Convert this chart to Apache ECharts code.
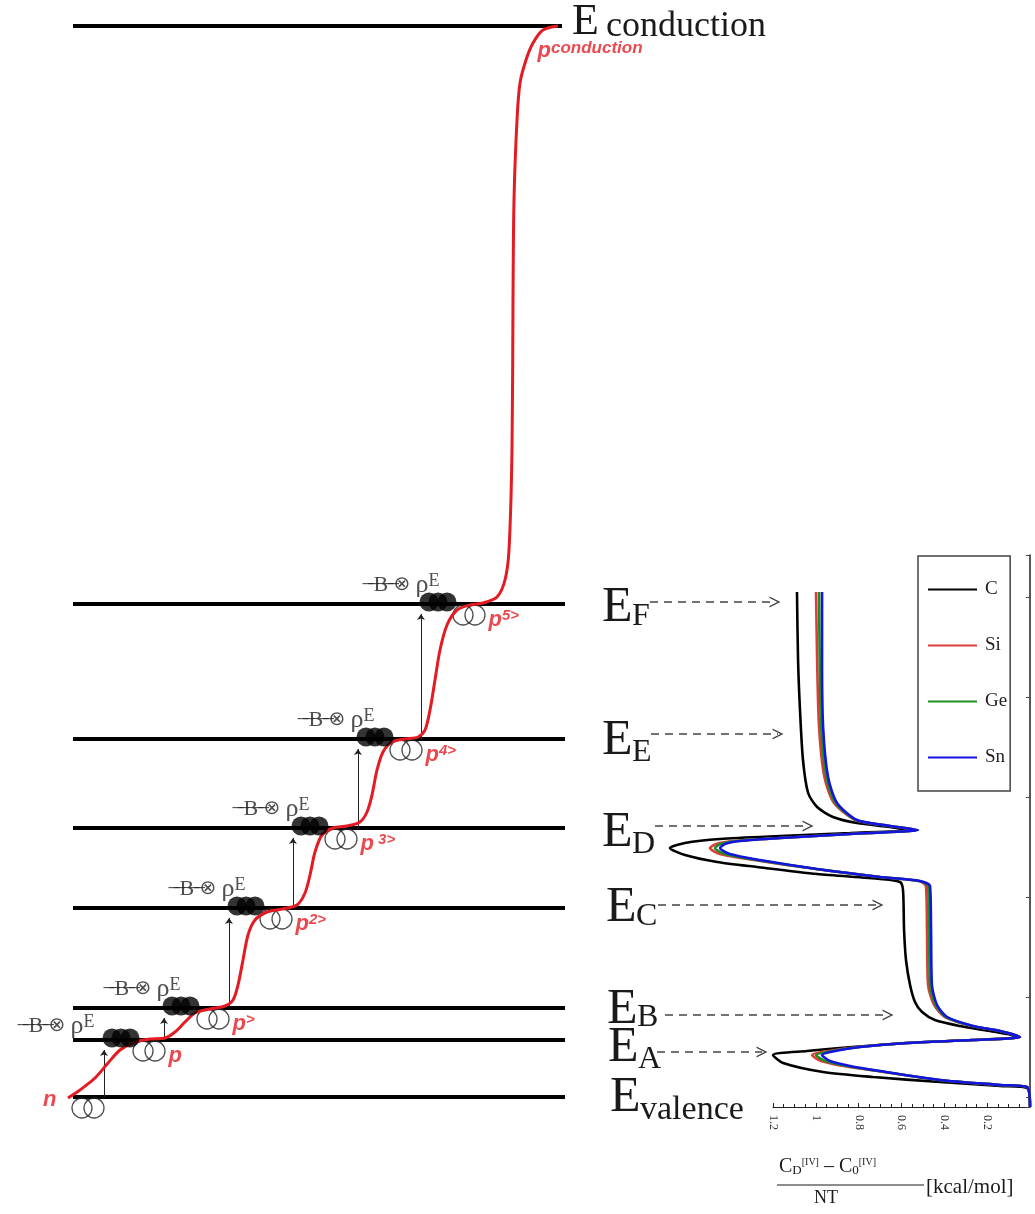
<!DOCTYPE html>
<html>
<head>
<meta charset="utf-8">
<script src="https://cdn.jsdelivr.net/npm/echarts@6/dist/echarts.min.js"></script>
<style>
html,body{margin:0;padding:0;background:#fff;}
#chart{width:1035px;height:1214px;}
</style>
</head>
<body>
<div id="chart"></div>
<script>
// ---------------- energy levels (energy units) ----------------
const levelNames  = ['valence','A','B','C','D','E','F','conduction'];
const levelEnergy = [0, 5.7, 8.9, 18.9, 26.9, 35.8, 49.3, 107.1];
const levelStart  = [73, 73, 73, 73, 73, 73, 73, 73];
const levelEnd    = [565, 565, 565, 565, 565, 565, 565, 562];

// ---------------- red reaction path (path coordinate, energy) ----------------
const pathCoord  = [68,80,95,108,120,135,150,165,175,185,195,210,225,233,238,243,248,255,267,282,297,305,310,315,322,333,347,360,367,372,377,383,392,405,418,425,430,435,440,447,457,470,483,497,505,509,512,513,514,517,520,526,533,543,558];
const pathEnergy = [-0.1,0.7,1.9,3.4,4.7,5.5,5.8,5.9,6.5,7.5,8.4,8.8,9.1,9.7,11.2,13.7,16.2,17.7,18.5,18.8,19.2,20.4,22.2,24.5,26.2,26.9,27.1,27.5,28.5,30.2,32.7,34.5,35.5,35.8,36.0,36.7,38.7,41.7,44.7,47.2,48.7,49.2,49.4,50.0,51.7,54.7,64.7,79.7,89.7,97.7,101.4,103.7,105.4,106.7,107.1];

// ---------------- occupied pairs (filled), empty pairs (open), excitations ----------------
const blobLevel   = [1, 2, 3, 4, 5, 6];
const blobCoord   = [103, 163, 228, 292, 357, 420];
const ringLevel   = [0, 1, 2, 3, 4, 5, 6];
const ringCoord   = [72, 133, 197, 260, 325, 390, 453];
const stateLabels = ['n', 'p', 'p>', 'p2>', 'p 3>', 'p4>', 'p5>', 'pconduction'];

// ---------------- right panel: (C_D - C_0)/NT [kcal/mol] vs energy ----------------
const cV  = [1.088,1.083,1.074,1.060,1.036,0.994,0.920,0.808,0.654,0.560,0.840,1.167,1.447,1.611,1.681,1.611,1.461,1.275,0.994,0.700,0.607,0.593,0.588,0.579,0.560,0.537,0.504,0.444,0.327,0.187,0.047,0.266,0.574,0.887,1.041,1.200,1.153,0.966,0.733,0.420,0.140,0.014,0];
const cE  = [50.5,43.7,38.7,33.7,30.4,29.0,28.0,27.4,27.0,26.7,26.4,26.1,25.8,25.4,24.9,24.2,23.5,23.0,22.3,21.8,21.5,20.7,16.7,13.7,11.2,9.5,8.5,7.7,7.1,6.6,6.0,5.7,5.4,4.9,4.6,4.2,3.4,2.5,2.0,1.5,1.1,0.9,-1.0];
const siV = [0.999,0.994,0.985,0.960,0.915,0.815,0.654,0.528,0.840,1.167,1.380,1.465,1.494,1.448,1.290,1.000,0.700,0.520,0.486,0.481,0.476,0.448,0.397,0.270,0.140,0.047,0.266,0.574,0.800,0.940,1.018,0.975,0.870,0.712,0.425,0.140,0.014,0];
const siE = [50.5,43.7,37.0,32.0,29.4,27.7,27.1,26.7,26.3,25.9,25.6,25.3,24.9,24.3,23.7,22.8,22.0,21.6,21.1,16.7,11.2,9.2,8.0,7.1,6.6,6.0,5.7,5.4,5.0,4.6,4.2,3.6,3.1,2.6,1.7,1.2,1.0,-1.0];
const geV = [0.985,0.982,0.975,0.951,0.908,0.812,0.654,0.525,0.840,1.167,1.367,1.445,1.471,1.425,1.276,0.997,0.700,0.517,0.476,0.471,0.467,0.441,0.392,0.268,0.140,0.047,0.266,0.574,0.797,0.925,0.999,0.955,0.855,0.706,0.423,0.140,0.014,0];
const geE = [50.5,43.7,37.0,32.0,29.4,27.7,27.1,26.7,26.3,25.9,25.6,25.3,24.9,24.3,23.7,22.8,22.0,21.6,21.1,16.7,11.2,9.2,8.0,7.1,6.6,6.0,5.7,5.4,5.0,4.6,4.2,3.6,3.1,2.6,1.7,1.2,1.0,-1.0];
const snV = [0.971,0.971,0.966,0.943,0.901,0.808,0.654,0.523,0.840,1.167,1.354,1.424,1.447,1.401,1.261,0.994,0.700,0.514,0.467,0.462,0.458,0.434,0.387,0.266,0.140,0.047,0.266,0.574,0.794,0.910,0.971,0.934,0.840,0.700,0.420,0.140,0.014,0];
const snE = [50.5,43.7,37.0,32.0,29.4,27.7,27.1,26.7,26.3,25.9,25.6,25.3,24.9,24.3,23.7,22.8,22.0,21.6,21.1,16.7,11.2,9.2,8.0,7.1,6.6,6.0,5.7,5.4,5.0,4.6,4.2,3.6,3.1,2.6,1.7,1.2,1.0,-1.0];
const seriesNames = ['C', 'Si', 'Ge', 'Sn'];

// ---------------- level labels & pointer arrows ----------------
const eLabelSub   = ['F', 'E', 'D', 'C', 'B', 'A', 'valence'];
const arrowEnergy = [49.5, 36.3, 27.1, 19.2, 8.2, 4.5];
const arrowFrom   = [650, 651, 655, 658, 665, 657];
const arrowTo     = [775, 778, 808, 878, 888, 762];

// ---------------- layout ----------------
const serif = "'Liberation Serif','DejaVu Serif',serif";
const sans  = "'Liberation Sans','DejaVu Sans',sans-serif";
const RED = '#e31b23';
const INK = '#1a1a1a';
const labelRight = [95, 181, 246, 310, 375, 440];
const labelLift  = [0.0, 0.5, 0.5, 0.5, 0.5, 0.5];
const eMainX = [602, 602, 602, 606, 607, 608, 610];
const eMainY = [608, 741, 833, 908, 1010, 1048, 1098];
const eSubY  = [617, 753, 845, 917, 1018, 1060, 1110];
// right panel: axis grid spans 0..1.2, curve grid (same scale) extends further left
const PX_PER_UNIT = 257 / 1.2;
const curveGridWidth = 375;

const zip = (a, b) => a.map((v, i) => [v, b[i]]);

const levelLines = levelEnergy.map((e, i) => ({ coords: [[levelStart[i], e], [levelEnd[i], e]] }));
const exciteArrows = blobLevel.map((li, i) => ({
  coords: [[blobCoord[i] + 1, levelEnergy[li - 1]], [blobCoord[i] + 1, levelEnergy[li] - 1.0]]
}));
const blobPts = [];
blobLevel.forEach((li, i) => { for (let k = 0; k < 3; k++) blobPts.push([blobCoord[i] + 9 + k * 9, levelEnergy[li] + 0.2]); });
const ringPts = [];
ringLevel.forEach((li, i) => { ringPts.push([ringCoord[i] + 10, levelEnergy[li] - 1.1]); ringPts.push([ringCoord[i] + 22, levelEnergy[li] - 1.1]); });
const opLabelPts = blobLevel.map((li, i) => [labelRight[i], levelEnergy[li] + labelLift[i]]);
const stateLabelPts = stateLabels.map((t, i) => {
  if (i === 0) return { value: [57, -0.3], label: { align: 'right' } };
  if (i === 7) return { value: [538, 104.6] };
  return { value: [ringCoord[i] + 36, levelEnergy[ringLevel[i]] - 1.6] };
});
const pointerArrows = arrowEnergy.map((e, i) => ({ coords: [[arrowFrom[i], e], [arrowTo[i], e]] }));

const graphics = [];
// E_conduction
graphics.push({ type: 'text', x: 572, y: 22, style: { text: 'E', fontFamily: serif, fontSize: 44, fill: INK, align: 'left', verticalAlign: 'middle' } });
graphics.push({ type: 'text', x: 606, y: 27, style: { text: 'conduction', fontFamily: serif, fontSize: 36, fill: INK, align: 'left', verticalAlign: 'middle' } });
eLabelSub.forEach((s, i) => {
  graphics.push({ type: 'text', x: eMainX[i], y: eMainY[i], style: { text: 'E', fontFamily: serif, fontSize: 50, fill: INK, align: 'left', verticalAlign: 'middle' } });
  graphics.push({ type: 'text', x: eMainX[i] + 30, y: eSubY[i], style: { text: s, fontFamily: serif, fontSize: s.length > 1 ? 34 : 32, fill: INK, align: 'left', verticalAlign: 'middle' } });
});
// axis title (fraction)
graphics.push({ type: 'text', x: 779, y: 1167, style: {
  text: '{c|C}{s|D}{u|[IV]}{c| \u2013 C}{s|0}{u|[IV]}', align: 'left', verticalAlign: 'middle',
  rich: {
    c: { fontFamily: serif, fontSize: 20, fill: INK },
    s: { fontFamily: serif, fontSize: 13, fill: INK, verticalAlign: 'bottom' },
    u: { fontFamily: serif, fontSize: 10, fill: INK, verticalAlign: 'top' }
  } } });
graphics.push({ type: 'line', shape: { x1: 777, y1: 1185, x2: 924, y2: 1185 }, style: { stroke: INK, lineWidth: 1 } });
graphics.push({ type: 'text', x: 826, y: 1198, style: { text: 'NT', fontFamily: serif, fontSize: 18, fill: INK, align: 'center', verticalAlign: 'middle' } });
graphics.push({ type: 'text', x: 926, y: 1187, style: { text: '[kcal/mol]', fontFamily: serif, fontSize: 21, fill: INK, align: 'left', verticalAlign: 'middle' } });

const curveColors = ['#000000', '#e03a3a', '#1f8f1f', '#1414e0'];
const curveData = [zip(cV, cE), zip(siV, siE), zip(geV, geE), zip(snV, snE)];

const chart = echarts.init(document.getElementById('chart'));
chart.setOption({
  animation: false,
  backgroundColor: '#ffffff',
  grid: [
    { left: 0, top: 0, width: 1035, height: 1214 },
    { left: 773, top: 555, width: 257, height: 552 },
    { left: 1030 - curveGridWidth, top: 555, width: curveGridWidth, height: 552 }
  ],
  xAxis: [
    { gridIndex: 0, type: 'value', min: 0, max: 1035, show: false },
    { gridIndex: 1, type: 'value', min: 0, max: 1.2, interval: 0.2, inverse: true, position: 'bottom',
      axisLine: { show: true, onZero: false, lineStyle: { color: '#222', width: 1 } },
      axisTick: { show: true, inside: true, length: 4, lineStyle: { color: '#222' } },
      minorTick: { show: true, splitNumber: 4, length: 3, lineStyle: { color: '#222' } },
      splitLine: { show: false },
      axisLabel: { rotate: -90, fontSize: 12, fontFamily: serif, color: '#333', margin: 8,
        formatter: v => (Math.abs(v) < 1e-9 ? '' : String(+v.toFixed(1))) } },
    { gridIndex: 2, type: 'value', min: 0, max: curveGridWidth / PX_PER_UNIT, inverse: true, show: false }
  ],
  yAxis: [
    { gridIndex: 0, type: 'value', min: -11.7, max: 109.7, show: false },
    { gridIndex: 1, type: 'value', min: -1, max: 54.2, position: 'right',
      axisLine: { show: true, onZero: false, lineStyle: { color: '#222', width: 1.5 } },
      axisTick: { show: true, inside: true, length: 4, lineStyle: { color: '#444' } },
      axisLabel: { show: false }, splitLine: { show: false } },
    { gridIndex: 2, type: 'value', min: -1, max: 54.2, show: false }
  ],
  legend: {
    data: seriesNames, orient: 'vertical', left: 918, top: 556,
    padding: [24, 3, 24, 10], itemWidth: 49, itemHeight: 2, itemGap: 37, icon: 'rect',
    borderColor: '#444', borderWidth: 1.5, backgroundColor: '#fff',
    textStyle: { fontFamily: serif, fontSize: 19, color: '#222', padding: [0, 0, 0, 3] }
  },
  graphic: { elements: graphics },
  series: [
    { type: 'lines', coordinateSystem: 'cartesian2d', xAxisIndex: 0, yAxisIndex: 0, silent: true,
      data: levelLines, lineStyle: { color: '#000', width: 4, opacity: 1 }, z: 2 },
    { type: 'lines', coordinateSystem: 'cartesian2d', xAxisIndex: 0, yAxisIndex: 0, silent: true,
      data: exciteArrows, symbol: ['none', 'arrow'], symbolSize: 6,
      lineStyle: { color: '#222', width: 1, opacity: 1 }, z: 3 },
    { type: 'scatter', xAxisIndex: 0, yAxisIndex: 0, silent: true, data: ringPts, symbol: 'circle', symbolSize: 20,
      itemStyle: { color: 'rgba(0,0,0,0)', borderColor: '#222', borderWidth: 1.3 }, z: 3 },
    { type: 'line', xAxisIndex: 0, yAxisIndex: 0, silent: true, data: zip(pathCoord, pathEnergy), symbol: 'none',
      smooth: 0.3, lineStyle: { color: RED, width: 3 }, z: 4 },
    { type: 'scatter', xAxisIndex: 0, yAxisIndex: 0, silent: true, data: blobPts, symbol: 'circle', symbolSize: 19,
      itemStyle: { color: '#000' }, z: 5 },
    { type: 'scatter', xAxisIndex: 0, yAxisIndex: 0, silent: true, data: opLabelPts, symbolSize: 1,
      itemStyle: { color: 'rgba(0,0,0,0)' }, z: 6,
      label: { show: true, position: [0, 0], align: 'right', verticalAlign: 'bottom',
        formatter: '{b|\u00a0\u0336\u00a0\u0336B\u0336\u00a0\u0336}{o|\u2297}{r|\u2009\u03c1}{e|E}',
        rich: {
          b: { fontFamily: serif, fontSize: 22, color: '#222' },
          o: { fontFamily: "'DejaVu Sans',sans-serif", fontSize: 20, color: '#222', padding: [0, 0, 2, 0] },
          r: { fontFamily: serif, fontSize: 26, color: '#222' },
          e: { fontFamily: serif, fontSize: 18, color: '#222', verticalAlign: 'top' }
        } } },
    { type: 'scatter', xAxisIndex: 0, yAxisIndex: 0, silent: true, data: stateLabelPts, symbolSize: 1,
      itemStyle: { color: 'rgba(0,0,0,0)' }, z: 6,
      label: { show: true, position: [0, 0], align: 'left', verticalAlign: 'middle',
        formatter: p => {
          const t = stateLabels[p.dataIndex];
          if (t === 'pconduction') return '{b|p}{c|conduction}';
          return '{b|' + t[0] + '}' + (t.length > 1 ? '{s|' + t.slice(1) + '}' : '');
        },
        rich: {
          b: { fontFamily: sans, fontWeight: 'bold', fontStyle: 'italic', fontSize: 22, color: RED },
          s: { fontFamily: sans, fontWeight: 'bold', fontStyle: 'italic', fontSize: 15, color: RED, verticalAlign: 'top' },
          c: { fontFamily: sans, fontWeight: 'bold', fontStyle: 'italic', fontSize: 17, color: RED, verticalAlign: 'top' }
        } } },
    { type: 'lines', coordinateSystem: 'cartesian2d', xAxisIndex: 0, yAxisIndex: 0, silent: true,
      data: pointerArrows, symbol: ['none', 'path://M0,10 L5,0 L10,10 L8.6,10 L5,2.8 L1.4,10 Z'], symbolSize: 11,
      lineStyle: { color: '#444', width: 1.5, type: [8, 6], opacity: 1 }, z: 3 },
    ...seriesNames.map((n, i) => ({
      name: n, type: 'line', xAxisIndex: 2, yAxisIndex: 2, data: curveData[i], symbol: 'none',
      smooth: 0.25, silent: true,
      lineStyle: { color: curveColors[i], width: 2.6 }, itemStyle: { color: curveColors[i] }, z: 4 + i * 0.1
    }))
  ]
});
</script>
</body>
</html>
